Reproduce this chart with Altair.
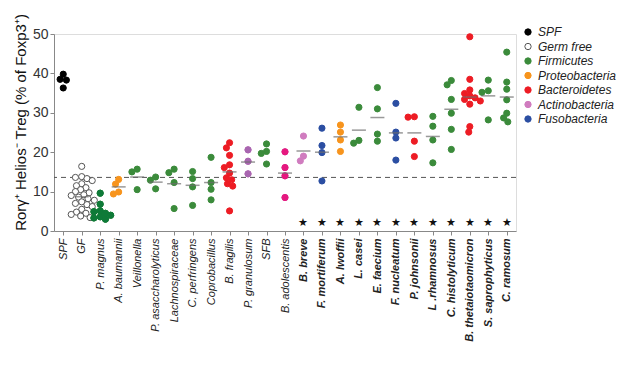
import json
import numpy as np
import pandas as pd
import altair as alt

categories = ["SPF", "GF", "P. magnus", "A. baumannii", "Veillonella",
              "P. asaccharolyticus", "Lachnospiraceae", "C. perfringens",
              "Coprobacillus", "B. fragilis", "P. granulosum", "SFB",
              "B. adolescentis", "B. breve", "F. mortiferum", "A. lwoffii",
              "L. casei", "E. faecium", "F. nucleatum", "P. johnsonii",
              "L .rhamnosus", "C. histolyticum", "B. thetaiotaomicron",
              "S. saprophyticus", "C. ramosum"]

phylum = ["SPF", "Germ free", "Firmicutes", "Proteobacteria", "Firmicutes",
          "Firmicutes", "Firmicutes", "Firmicutes", "Firmicutes",
          "Bacteroidetes", "Actinobacteria", "Firmicutes", "Actinobacteria",
          "Actinobacteria", "Fusobacteria", "Proteobacteria", "Firmicutes",
          "Firmicutes", "Fusobacteria", "Bacteroidetes", "Firmicutes",
          "Firmicutes", "Bacteroidetes", "Firmicutes", "Firmicutes"]

values = [
    [38.5, 38.3, 36.3, 39.8],
    [16.4, 13.8, 13.6, 13.3, 12.8, 12.0, 11.5, 11.0, 10.5, 10.0, 9.7, 9.2, 9.0,
     8.6, 8.2, 7.8, 7.4, 7.0, 6.7, 6.2, 5.5, 4.8, 4.5, 4.2, 3.8, 3.4],
    [9.6, 6.8, 5.1, 4.9, 4.5, 4.0, 3.6, 3.3, 3.0],
    [13.1, 11.9, 9.9, 9.4],
    [15.7, 15.0, 10.5],
    [13.7, 12.9, 10.7],
    [14.8, 15.7, 12.3, 5.7],
    [15.1, 13.3, 11.2, 6.5],
    [18.7, 12.3, 10.6, 7.9],
    [22.4, 21.1, 19.2, 16.8, 16.1, 14.7, 13.5, 13.0, 12.0, 11.4, 5.1],
    [20.6, 17.7, 14.5],
    [22.1, 20.2, 19.7, 17.0],
    [20.1, 16.1, 14.0, 8.5],
    [24.1, 17.8, 19.0],
    [26.1, 21.7, 19.9, 12.7],
    [26.9, 25.1, 23.1, 20.2],
    [31.4, 22.3, 23.0],
    [36.4, 31.0, 22.8, 24.6],
    [32.4, 25.1, 23.6, 18.0],
    [28.9, 29.0, 22.8, 18.9],
    [29.1, 26.6, 23.1, 17.3],
    [37.1, 38.2, 33.4, 29.9, 25.8, 20.7],
    [49.3, 38.5, 35.8, 34.9, 34.3, 33.8, 33.4, 33.0, 32.2, 26.5, 25.1],
    [38.3, 35.6, 35.2, 28.2],
    [45.4, 37.8, 36.0, 33.3, 29.9, 28.7, 27.7],
]

means = [None, 8.7, None, 11.2, 13.7, 12.4, 12.0, 11.6, 12.3, 15.0, 17.5, None,
         14.7, 20.3, 20.0, 23.9, 25.6, 28.8, 24.9, 24.9, 24.0, 30.9, 34.0,
         34.3, 34.0]

starred = categories[13:]
reference_level = 13.6
star_level = 2.0

legend_order = ["SPF", "Germ free", "Firmicutes", "Proteobacteria",
                "Bacteroidetes", "Actinobacteria", "Fusobacteria"]
fill_colors = ["#000000", "#ffffff", "#3b8b3b", "#f7941d", "#ed1c24",
               "#d07cbf", "#2b4ea2"]
stroke_colors = ["#000000", "#555555", "#3b8b3b", "#f7941d", "#ed1c24",
                 "#d07cbf", "#2b4ea2"]
special_colors = {"P. magnus": "#0e7a38", "P. granulosum": "#a866b0",
                  "B. adolescentis": "#e6187f"}

# ---- layout constants ----
W, H = 462, 197
n = len(categories)
px_x = W / n
px_y = H / 50.0
D = 7.0


def beeswarm(vals):
    order = sorted(range(len(vals)), key=lambda i: -vals[i])
    placed = []
    offs = [0.0] * len(vals)
    cands = sorted([k * 0.15 * D for k in range(-14, 15)], key=lambda o: (abs(o), o))
    for i in order:
        y = vals[i] * px_y
        for o in cands:
            if all((o - po) ** 2 + (y - py) ** 2 >= (0.8 * D) ** 2 for po, py in placed):
                break
        placed.append((o, y))
        offs[i] = o
    return offs


rows = []
for ci, (cat, ph, vals) in enumerate(zip(categories, phylum, values)):
    offs = beeswarm(vals)
    for v, o in zip(vals, offs):
        rows.append({"cat": cat, "phylum": ph, "value": v,
                     "pos": ci + o / px_x,
                     "special": special_colors.get(cat)})
pts = pd.DataFrame(rows)
mean_df = pd.DataFrame({"idx": list(range(n)), "mean": means}).dropna()
star_df = pd.DataFrame({"idx": [categories.index(c) for c in starred]})
ref_df = pd.DataFrame({"ref": [reference_level]})

label_arr = json.dumps(categories)

xscale = alt.Scale(domain=[-0.5, n - 0.5], nice=False, zero=False)
xaxis = alt.Axis(values=list(range(n)),
                 labelExpr=f"{label_arr}[datum.value]",
                 labelAngle=-90, labelFontSize=11,
                 labelFontStyle="italic", labelColor="#222",
                 labelFontWeight={"condition": {"test": "datum.value >= 13", "value": "bold"}, "value": "normal"},
                 labelPadding=3, tickSize=4, tickColor="#888",
                 domainColor="#888", grid=False, title=None,
                 labelOverlap=False)

ytitle = "Rorγ⁺ Helios⁻ Treg (% of Foxp3⁺)"
yscale = alt.Scale(domain=[0, 50], nice=False)
yaxis = alt.Axis(values=[0, 10, 20, 30, 40, 50], title=ytitle,
                 labelFontSize=14, labelColor="#333", labelOverlap=False,
                 tickSize=4, tickColor="#888", domainColor="#888",
                 labelPadding=2, titleFontSize=15,
                 titleFontWeight="normal", titleColor="#111",
                 titlePadding=4, titleY=88, grid=False)


def xenc(field):
    return alt.X(field, type="quantitative", scale=xscale, axis=xaxis)


def yenc(field):
    return alt.Y(field, type="quantitative", scale=yscale, axis=yaxis)


legend = alt.Legend(title=None, orient="none", legendX=468, legendY=-8,
                    labelFontStyle="italic", labelFontSize=12,
                    labelColor="#222", symbolSize=40, symbolStrokeWidth=1,
                    rowPadding=2.5, symbolType="circle")

ref_rule = alt.Chart(ref_df).mark_rule(strokeDash=[5, 4], color="#555",
                                        strokeWidth=1).encode(y=yenc("ref"))

points = alt.Chart(pts).mark_point(shape="circle", filled=True, size=38,
                                   strokeWidth=1, opacity=1).encode(
    x=xenc("pos"), y=yenc("value"),
    fill=alt.Fill("phylum:N",
                  scale=alt.Scale(domain=legend_order, range=fill_colors),
                  legend=legend),
    stroke=alt.Stroke("phylum:N",
                      scale=alt.Scale(domain=legend_order, range=stroke_colors),
                      legend=legend),
)

special = alt.Chart(pts).transform_filter("datum.special != null").mark_point(
    shape="circle", filled=True, size=38, strokeWidth=1, opacity=1).encode(
    x=xenc("pos"), y=yenc("value"),
    fill=alt.Fill("special:N", scale=None),
    stroke=alt.Stroke("special:N", scale=None),
)

mean_ticks = alt.Chart(mean_df).mark_tick(orient="horizontal", size=14,
                                          thickness=1.5, color="#6e6e6e").encode(
    x=xenc("idx"), y=yenc("mean"))

stars = alt.Chart(star_df).mark_text(text="★", fontSize=11, color="#111",
                                     baseline="middle").encode(
    x=xenc("idx"),
    y=alt.YDatum(star_level, type="quantitative", scale=yscale, axis=yaxis))

chart = alt.layer(ref_rule, points, special, mean_ticks, stars).properties(
    width=W, height=H, padding={"left": 5, "top": 5, "right": 0, "bottom": 0}
).configure_view(stroke=None).configure(font="Liberation Sans")

chart.save("out.html", embed_options={"renderer": "svg", "actions": False})
